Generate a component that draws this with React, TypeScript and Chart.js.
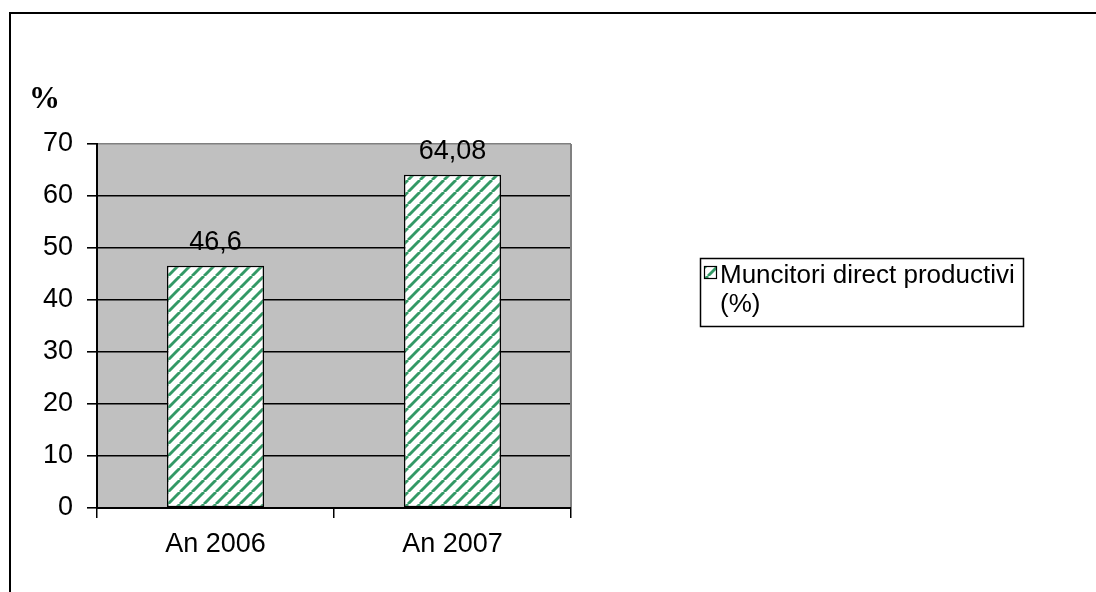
import React, { useEffect, useRef } from "react";
import { Chart, registerables } from "chart.js";

Chart.register(...registerables);

const categories: string[] = ["An 2006", "An 2007"];
const values: number[] = [46.6, 64.08];
const seriesName: string[] = ["Muncitori direct productivi", "(%)"];
const yTicks = { min: 0, max: 70, step: 10 };
const axisTitle = "%";

const FONT = "'Liberation Sans', Arial, sans-serif";
const GREEN = "#339966";

function makePattern(): CanvasPattern | string {
  const c = document.createElement("canvas");
  const P = 12;
  c.width = P;
  c.height = P;
  const g = c.getContext("2d");
  if (!g) return GREEN;
  g.fillStyle = "#ffffff";
  g.fillRect(0, 0, P, P);
  g.strokeStyle = GREEN;
  g.lineWidth = 2.9;
  for (const k of [-P, 0, P]) {
    g.beginPath();
    g.moveTo(k, P);
    g.lineTo(k + P, 0);
    g.stroke();
  }
  const ctx = document.createElement("canvas").getContext("2d");
  const pat = ctx ? ctx.createPattern(c, "repeat") : null;
  return pat || GREEN;
}

export default function App() {
  const ref = useRef<HTMLCanvasElement | null>(null);

  useEffect(() => {
    if (!ref.current) return;
    const pattern = makePattern();

    const decor = {
      id: "decor",
      beforeDraw(chart: any) {
        const { ctx, chartArea } = chart;
        ctx.save();
        ctx.fillStyle = "#ffffff";
        ctx.fillRect(0, 0, chart.width, chart.height);
        ctx.fillStyle = "#c0c0c0";
        ctx.fillRect(chartArea.left, chartArea.top, chartArea.right - chartArea.left, chartArea.bottom - chartArea.top);
        ctx.restore();
      },
      afterDraw(chart: any) {
        const { ctx, chartArea } = chart;
        ctx.save();
        ctx.strokeStyle = "#808080";
        ctx.lineWidth = 2;
        ctx.beginPath();
        ctx.moveTo(chartArea.right, chartArea.top);
        ctx.lineTo(chartArea.right, chartArea.bottom - 1);
        ctx.stroke();

        ctx.fillStyle = "#000000";
        ctx.fillRect(9, 12, 2, chart.height);
        ctx.fillRect(9, 12, chart.width, 2);

        ctx.fillStyle = "#000000";
        ctx.font = "bold 31px 'Liberation Serif', 'Times New Roman', serif";
        ctx.textAlign = "left";
        ctx.textBaseline = "alphabetic";
        ctx.fillText(axisTitle, 29, 108);

        ctx.font = "27px " + FONT;
        ctx.textAlign = "center";
        const meta = chart.getDatasetMeta(0);
        meta.data.forEach((bar: any, i: number) => {
          const label = String(values[i]).replace(".", ",");
          ctx.fillText(label, bar.x, bar.y - 16);
        });

        const lx = 700, ly = 258, lw = 323, lh = 68;
        ctx.strokeStyle = "#000000";
        ctx.lineWidth = 1.5;
        ctx.strokeRect(lx + 0.5, ly + 0.5, lw, lh);
        ctx.fillStyle = pattern as any;
        ctx.fillRect(704, 266, 12, 12);
        ctx.lineWidth = 1.2;
        ctx.strokeRect(704.5, 266.5, 12, 12);
        ctx.fillStyle = "#000000";
        ctx.textAlign = "left";
        ctx.font = "26px " + FONT;
        ctx.fillText(seriesName[0], 720, 283);
        ctx.fillText(seriesName[1], 720, 312);
        ctx.restore();
      },
    };

    const chart = new Chart(ref.current, {
      type: "bar",
      data: {
        labels: categories,
        datasets: [
          {
            label: seriesName.join(" "),
            data: values,
            backgroundColor: pattern as any,
            borderColor: "#000000",
            borderWidth: 1.5,
            borderSkipped: false,
            barPercentage: 0.41,
            categoryPercentage: 1,
          },
        ],
      },
      options: {
        responsive: false,
        animation: false,
        devicePixelRatio: 1,
        layout: { padding: { left: 37, right: 525, top: 144, bottom: 0 } },
        plugins: {
          legend: { display: false },
          tooltip: { enabled: false },
          title: { display: false },
        },
        scales: {
          x: {
            offset: true,
            grid: {
              offset: true,
              drawOnChartArea: false,
              drawTicks: true,
              tickLength: 10,
              color: "#000000",
              lineWidth: 1.5,
            },
            border: { display: true, color: "#000000", width: 2 },
            ticks: { color: "#000000", font: { family: FONT, size: 27 }, padding: 10, maxRotation: 0 },
            afterFit(scale: any) {
              scale.height = 84;
            },
          },
          y: {
            min: yTicks.min,
            max: yTicks.max,
            ticks: { stepSize: yTicks.step, color: "#000000", font: { family: FONT, size: 27 }, padding: 14 },
            grid: {
              color: (c: any) => (c.tick && c.tick.value === yTicks.max ? "#808080" : "#000000"),
              lineWidth: 1.6,
              tickLength: 10,
              tickColor: "#000000",
            },
            border: { display: true, color: "#000000", width: 2 },
            afterFit(scale: any) {
              scale.width = 60;
            },
          },
        },
      },
      plugins: [decor],
    });

    return () => chart.destroy();
  }, []);

  return (
    <div style={{ position: "absolute", left: 0, top: 0, width: 1096, height: 592, background: "#fff" }}>
      <canvas ref={ref} width={1096} height={592} style={{ display: "block", width: 1096, height: 592 }} />
    </div>
  );
}
